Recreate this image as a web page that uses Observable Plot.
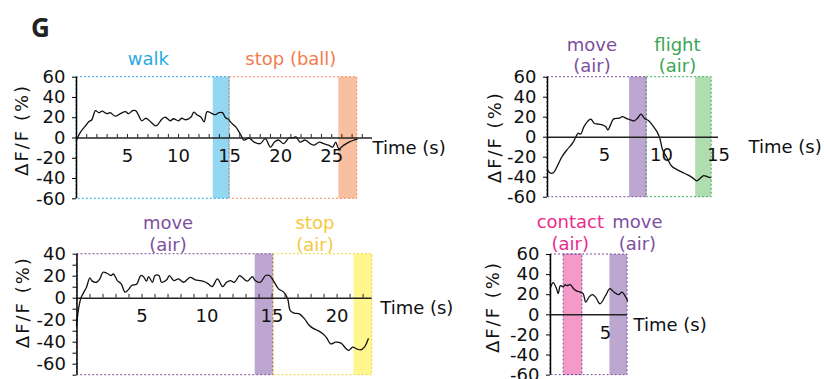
<!DOCTYPE html>
<html><head><meta charset="utf-8">
<script src="https://cdn.jsdelivr.net/npm/d3@7"></script>
<script src="https://cdn.jsdelivr.net/npm/@observablehq/plot@0.6"></script>
<style>
body{margin:0;background:#fff;}
#wrap{position:relative;width:825px;height:379px;overflow:hidden;}
.panel{position:absolute;}
#title{position:absolute;left:31px;top:14px;font:bold 26px/26px "Noto Sans",sans-serif;color:#222;}
</style></head><body>
<div id="wrap"><div id="title">G</div></div>
<script>
// ---------- data ----------
const p1Trace = [[0,-2],[0.39,5.8],[0.88,12],[1.2,16],[1.5,18],[1.86,27],[2.2,25],[2.5,26.5],[3.0,24],[3.3,25],[3.8,21.5],[4.3,24],[4.8,26],[5.1,24],[5.5,27],[5.8,27],[6.1,22],[6.4,17],[6.8,19.5],[7.3,15.6],[7.75,12],[7.9,12.5],[8.4,19],[8.7,20.5],[9.2,17],[9.5,19],[10,17],[10.3,19.5],[10.7,18],[11.2,20.5],[11.5,25.5],[11.8,23],[12.2,20.5],[12.5,16],[12.8,26],[13.3,24],[13.6,23],[13.95,25],[14.3,25],[14.6,20],[14.9,18.5],[15.1,15.6],[15.6,11],[16.1,3],[16.4,-2],[16.9,0],[17.4,-4],[18.0,-5.6],[18.5,-0.7],[19,-9],[19.4,-4],[19.8,-2],[20.3,-5.6],[20.8,0],[21.1,0],[21.5,1],[21.9,-4],[22.4,-2],[22.9,-5.6],[23.3,-7],[23.8,-4],[24.2,-5.6],[24.7,-7],[25.1,-9],[25.4,-4],[25.7,-10.7],[26.2,-7],[26.7,-4],[27.2,-2],[27.5,-1]];
const p2Trace = [[0,-32.7],[0.26,-36],[0.56,-35],[0.85,-29],[1.3,-19],[1.7,-12.7],[2.2,-6],[2.5,0.6],[2.7,4],[2.9,3],[3.2,10.6],[3.5,15.6],[3.8,18],[4.1,14],[4.5,13],[4.8,12.3],[5.1,10.6],[5.3,7.3],[5.5,11.6],[5.8,18.3],[6.3,19],[6.55,20.6],[7,18.3],[7.3,17.3],[7.6,16.3],[7.9,19],[8.2,23],[8.5,19],[8.9,16.3],[9.3,10.6],[9.6,5.6],[9.85,-1],[10.1,-12.7],[10.5,-21],[10.9,-29],[11.4,-32.7],[11.8,-35],[12.3,-37.7],[12.7,-40.4],[13.1,-43.7],[13.4,-41],[13.7,-38.4],[14,-39.4],[14.3,-40.4]];
const p3Trace = [[-0.04,-25],[0.14,-8.2],[0.32,0.9],[0.53,5.5],[0.73,10],[0.99,18.5],[1.17,15.5],[1.5,14.5],[1.76,17.6],[2.0,23.6],[2.3,22.7],[2.6,20.6],[2.8,22],[3.1,16],[3.4,13],[3.7,5.5],[4.0,8.5],[4.2,11.5],[4.6,13],[4.9,20.6],[5.1,19.7],[5.35,15.5],[5.5,19.7],[5.8,14.5],[6.0,20.6],[6.3,20.6],[6.5,14.5],[6.9,16.7],[7.1,20.6],[7.45,16],[7.8,17.6],[8.2,14.5],[8.7,19],[9.1,16.7],[9.5,16],[9.9,14.5],[10.1,13],[10.4,10.6],[10.8,17.6],[11.2,10.5],[11.5,14.5],[11.8,16],[12.1,14.5],[12.5,20.6],[12.7,19],[13.1,15.5],[13.5,19.7],[13.7,16],[14.1,14.5],[14.5,20.6],[14.8,20.6],[15.1,16],[15.5,8.5],[15.9,5.5],[16.2,-0.6],[16.4,-11.2],[16.7,-13.6],[17.1,-14.2],[17.5,-18.8],[17.8,-23.9],[18.1,-27],[18.5,-29.3],[18.9,-32.4],[19.2,-36],[19.5,-41.5],[19.9,-40],[20.3,-40.9],[20.7,-46],[20.9,-47.5],[21.2,-44.5],[21.5,-46],[21.8,-47],[22.1,-44.5],[22.4,-36.9]];
const p4Trace = [[0,27],[0.24,32],[0.55,26],[0.7,21],[0.9,29],[1.15,28],[1.36,30],[1.5,29],[1.8,30],[2.1,26],[2.4,23.6],[2.7,22.6],[2.97,21],[3.2,12.6],[3.5,17.6],[3.8,20],[4.1,17.6],[4.5,11],[5.0,19],[5.4,26],[5.76,22.6],[6.2,20],[6.5,22.6],[7.0,14]];

const p1Phases = [{key:"walk",label:"walk",start:0,end:15,bandStart:13.4},{key:"stopBall",label:"stop (ball)",start:15,end:27.5,bandStart:25.7}];
const p2Phases = [{key:"move",label:"move\n(air)",start:0,end:8.7,bandStart:7.2},{key:"flight",label:"flight\n(air)",start:8.7,end:14.4,bandStart:13.0}];
const p3Phases = [{key:"move",label:"move\n(air)",start:0,end:15.1,bandStart:13.7},{key:"stopAir",label:"stop\n(air)",start:15.1,end:22.7,bandStart:21.3}];
const p4Phases = [{key:"contact",label:"contact\n(air)",start:1.2,end:2.9,bandStart:1.2},{key:"move",label:"move\n(air)",start:0,end:7.0,bandStart:5.4}];

const p1XLabels = [5,10,15,20,25], p2XLabels = [5,10,15], p3XLabels = [5,10,15,20], p4XLabels = [5];
const yTicks60 = [-60,-40,-20,0,20,40,60];
const yTicks40 = [-60,-40,-20,0,20,40];
const yMinor40 = [-70,-50,-30,-10,10,30];

// ---------- styles ----------
const palette = {
  walk:{text:"#29abe2",band:"#93d7f3",box:"#29abe2"},
  stopBall:{text:"#f47b4c",band:"#f9bfa1",box:"#f58a5c"},
  move:{text:"#7d4f9e",band:"#bda7d1",box:"#7d4f9e"},
  flight:{text:"#3aa655",band:"#b0ddb0",box:"#3aaa5a"},
  stopAir:{text:"#f5c93a",band:"#fff78d",box:"#f5d33c"},
  contact:{text:"#ec2a8c",band:"#f49ac9",box:"#7d4f9e"}
};
const FONT = '"DejaVu Sans",sans-serif';
const FS = 18;
const YLABEL = "ΔF/F (%)";

function drawPanel(c) {
  const [x0, x1] = c.xDomain, [y0, y1] = c.yDomain;
  const marks = [
    Plot.rect(c.phases, {x1:"bandStart", x2:"end", y1:()=>y0, y2:()=>y1, fill:d=>palette[d.key].band}),
    Plot.rect(c.phases, {x1:"start", x2:"end", y1:()=>y0, y2:()=>y1, fill:"none", stroke:d=>palette[d.key].box, strokeDasharray:"2,2", strokeWidth:1}),
    Plot.line(c.trace, {x:d=>d[0], y:d=>d[1], stroke:"#111", strokeWidth:1.3, curve:"catmull-rom"}),
    Plot.ruleY([0], {x1:()=>x0, x2:()=>x1, stroke:"#222", strokeWidth:1.5}),
    Plot.ruleX([0], {y1:()=>y0, y2:()=>y1, stroke:"#000", strokeWidth:1.5}),
    Plot.axisY(c.yTicks, {tickSize:4, tickPadding:7, fontSize:FS, tickFormat:d=>String(d), label:null, stroke:"#000", fill:"#111"}),
    Plot.text(c.xLabels, {x:d=>d, y:()=>0, dy:18, text:d=>String(d), fontSize:FS, fill:"#111"}),
    Plot.text(["Time (s)"], {x:()=>x1, y:()=>0, dx:c.timeDx, dy:10, textAnchor:"start", fontSize:FS, fill:"#111"}),
    Plot.text([YLABEL], {x:()=>0, y:()=>c.ylabelAt, rotate:-90, dx:c.ylabelDx, fontSize:FS, fill:"#111"}),
    Plot.text(c.phases, {x:(d,i)=>c.labelX[i], y:()=>y1, dy:c.labelDy, text:"label", fill:d=>palette[d.key].text, fontSize:FS, lineHeight:1.2})
  ];
  if (c.yMinor) marks.push(Plot.axisY(c.yMinor, {tickSize:4, tickFormat:()=>"", label:null, stroke:"#000"}));
  if (c.xMinor) marks.push(Plot.ruleX(c.xMinor, {x:d=>d, y1:()=>0, y2:()=>c.tickLen, stroke:"#222"}));
  const svg = Plot.plot({
    width:c.w, height:c.h,
    marginLeft:c.m[0], marginRight:c.m[1], marginTop:c.m[2], marginBottom:c.m[3],
    x:{domain:c.xDomain, axis:null},
    y:{domain:c.yDomain},
    style:{fontFamily:FONT, overflow:"visible", background:"transparent", color:"#111"},
    marks
  });
  svg.querySelectorAll("text").forEach(t => { if (t.textContent === YLABEL) t.style.letterSpacing = "2px"; });
  svg.classList.add("panel");
  svg.style.left = c.left + "px";
  svg.style.top = c.top + "px";
  svg.style.position = "absolute";
  document.getElementById("wrap").appendChild(svg);
}

drawPanel({trace:p1Trace, phases:p1Phases, xDomain:[0,29], yDomain:[-60,60], xLabels:p1XLabels, yTicks:yTicks60,
  xMinor:d3.range(1,29), tickLen:3.5, labelX:[7.05,21.0], labelDy:-18.7, ylabelAt:8, ylabelDx:-54, timeDx:0,
  left:0, top:0, w:470, h:205, m:[76,98,76.7,6.7]});
drawPanel({trace:p2Trace, phases:p2Phases, xDomain:[0,15], yDomain:[-60,60], xLabels:p2XLabels, yTicks:yTicks60,
  labelX:[3.9,11.4], labelDy:-22.7, ylabelAt:0, ylabelDx:-52, timeDx:30,
  left:470, top:0, w:355, h:205, m:[77,107,76.7,8.3]});
drawPanel({trace:p3Trace, phases:p3Phases, xDomain:[0,22.7], yDomain:[-70,40], xLabels:p3XLabels, yTicks:yTicks40, yMinor:yMinor40,
  xMinor:d3.range(1,23), tickLen:3.5, labelX:[7.0,18.3], labelDy:-21, ylabelAt:-3.6, ylabelDx:-54, timeDx:8,
  left:0, top:205, w:470, h:174, m:[76.5,98.3,48.7,4.3]});
drawPanel({trace:p4Trace, phases:p4Phases, xDomain:[0,7], yDomain:[-60,60], xLabels:p4XLabels, yTicks:yTicks60,
  labelX:[1.8,7.9], labelDy:-22.3, ylabelAt:7.7, ylabelDx:-57, timeDx:6,
  left:470, top:205, w:355, h:174, m:[80,198,49,4.4]});
</script>
</body></html>
